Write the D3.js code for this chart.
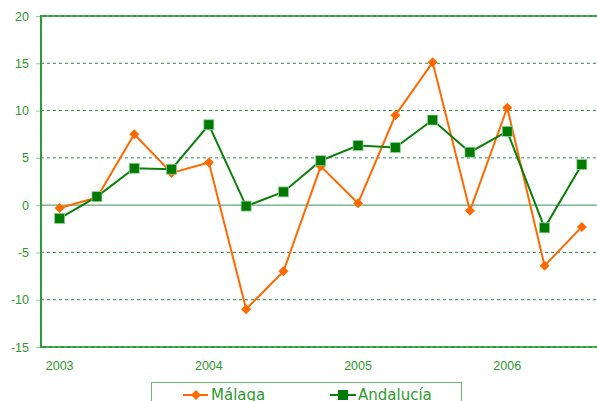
<!DOCTYPE html>
<html><head><meta charset="utf-8">
<script src="https://cdn.jsdelivr.net/npm/d3@7"></script>
<style>body{margin:0;background:#fff;} svg{display:block;font-family:"DejaVu Sans",Verdana,sans-serif;}</style>
</head><body>
<svg id="c" width="597" height="401"></svg>
<script>
const quarters = ["2003T1","2003T2","2003T3","2003T4","2004T1","2004T2","2004T3","2004T4","2005T1","2005T2","2005T3","2005T4","2006T1","2006T2","2006T3"];
const yearLabels = {"2003T1":"2003","2004T1":"2004","2005T1":"2005","2006T1":"2006"};
const malaga = [-0.3, 0.8, 7.5, 3.4, 4.5, -11.0, -7.0, 4.1, 0.2, 9.5, 15.1, -0.6, 10.3, -6.4, -2.3];
const andalucia = [-1.4, 0.9, 3.9, 3.8, 8.5, -0.1, 1.4, 4.7, 6.3, 6.1, 9.0, 5.6, 7.8, -2.4, 4.3];
const yTicks = [20, 15, 10, 5, 0, -5, -10, -15];
const seriesNames = ["Málaga", "Andalucía"];

const svg = d3.select("#c");
const L = 41, R = 597, T = 16, B = 347;
const x = d3.scaleBand().domain(quarters).range([L, L + 15 * 37.3]);
const y = d3.scaleLinear().domain([-15, 20]).range([B, T]);
const cx = q => x(q) + x.bandwidth() / 2;
const txt = "#2e9a2e";

// grid
svg.append("g").selectAll("line").data(yTicks.filter(d => d !== 0 && d !== 20 && d !== -15)).join("line")
  .attr("x1", L).attr("x2", R).attr("y1", d => y(d)).attr("y2", d => y(d))
  .attr("stroke", "#2e8b57").attr("stroke-width", 1).attr("stroke-dasharray", "3,3");
// zero line
svg.append("line").attr("x1", L).attr("x2", R).attr("y1", y(0)).attr("y2", y(0))
  .attr("stroke", "#5fa97a").attr("stroke-width", 1.2);
// top & bottom borders
[20, -15].forEach(v => {
  svg.append("line").attr("x1", L).attr("x2", R).attr("y1", y(v)).attr("y2", y(v))
    .attr("stroke", "#2f9a3a").attr("stroke-width", 2);
  svg.append("line").attr("x1", L).attr("x2", R).attr("y1", y(v)).attr("y2", y(v))
    .attr("stroke", "#6cc07a").attr("stroke-width", 1).attr("stroke-dasharray", "3,3").attr("stroke-dashoffset", 1);
});
// y axis
const yAxis = d3.axisLeft(y).tickValues(yTicks).tickSize(5).tickPadding(7).tickFormat(d => String(d));
const ga = svg.append("g").attr("transform", `translate(${L},0)`).call(yAxis);
ga.select(".domain").remove();
ga.selectAll(".tick line").attr("stroke", "#8fcf9a").attr("stroke-width", 1);
ga.selectAll(".tick text").attr("fill", txt).style("font-size", "12.5px");
svg.append("line").attr("x1", L).attr("x2", L).attr("y1", T - 1).attr("y2", B + 1)
  .attr("stroke", "#2f9a3a").attr("stroke-width", 2);

// x labels
const xAxis = d3.axisBottom(x).tickSize(0).tickPadding(0).tickFormat(q => yearLabels[q] || "");
const gx = svg.append("g").attr("transform", `translate(0,${B + 23})`).call(xAxis);
gx.select(".domain").remove();
gx.selectAll(".tick text").attr("fill", txt).style("font-size", "12.5px").attr("dy", "0");

// lines
const line = d3.line().x((d, i) => cx(quarters[i])).y(d => y(d));
svg.append("path").datum(malaga).attr("d", line).attr("fill", "none").attr("stroke", "#ff6a00").attr("stroke-width", 2);
svg.append("path").datum(andalucia).attr("d", line).attr("fill", "none").attr("stroke", "#0a800a").attr("stroke-width", 2);

const diamond = d3.symbol().type(d3.symbolSquare).size(50);
svg.append("g").selectAll("path").data(malaga).join("path")
  .attr("d", diamond).attr("transform", (d, i) => `translate(${cx(quarters[i])},${y(d)}) rotate(45)`)
  .attr("fill", "#ff6a00");
svg.append("g").selectAll("rect").data(andalucia).join("rect")
  .attr("x", (d, i) => cx(quarters[i]) - 5).attr("y", d => y(d) - 5).attr("width", 10).attr("height", 10)
  .attr("fill", "#007a00").attr("stroke", "#8fd09a").attr("stroke-width", 0.8);

// legend
svg.append("rect").attr("x", 151.5).attr("y", 382.5).attr("width", 310).attr("height", 30)
  .attr("fill", "#fff").attr("stroke", "#6dba73").attr("stroke-width", 1);
const lg = svg.append("g");
// Málaga
lg.append("line").attr("x1", 183).attr("x2", 208).attr("y1", 395).attr("y2", 395).attr("stroke", "#ff6a00").attr("stroke-width", 2);
lg.append("path").attr("d", diamond).attr("transform", "translate(196,395) rotate(45)").attr("fill", "#ff6a00");
lg.append("text").attr("x", 211).attr("y", 400).text(seriesNames[0]).attr("fill", txt).style("font-size", "15px");
// Andalucía
lg.append("line").attr("x1", 330).attr("x2", 356).attr("y1", 395).attr("y2", 395).attr("stroke", "#0a800a").attr("stroke-width", 2);
lg.append("rect").attr("x", 338).attr("y", 390).attr("width", 10).attr("height", 10).attr("fill", "#007a00");
lg.append("text").attr("x", 358).attr("y", 400).text(seriesNames[1]).attr("fill", txt).style("font-size", "15px");
</script>
</body></html>
